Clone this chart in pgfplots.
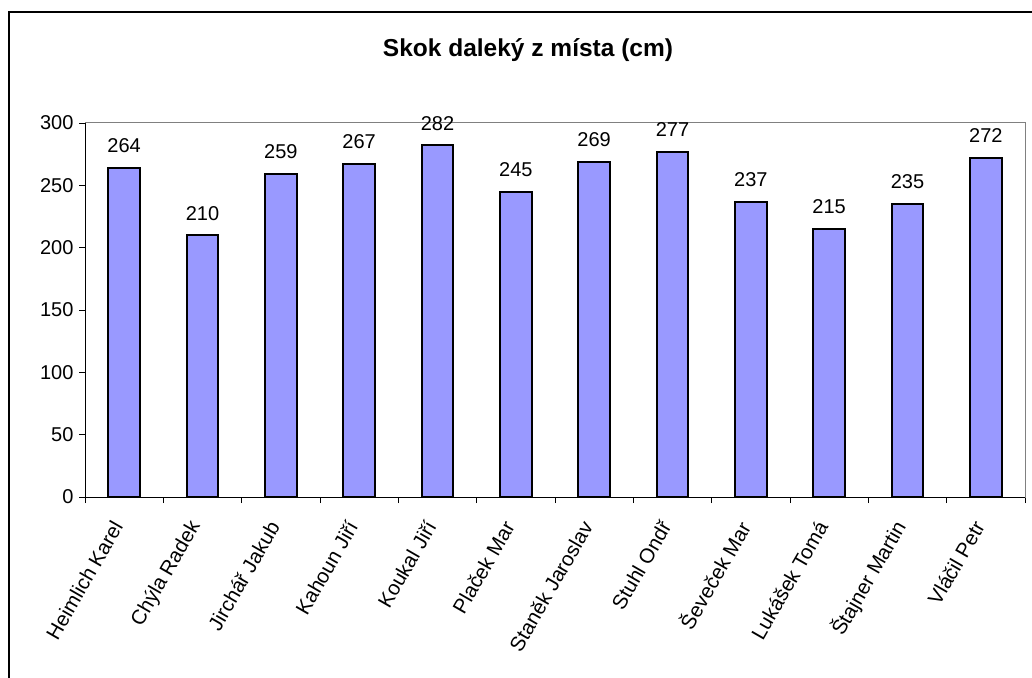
\documentclass[border=0pt]{standalone}
\usepackage{fontspec}
\setmainfont{Liberation Sans}
\usepackage{pgfplots}
\pgfplotsset{compat=1.18}
\definecolor{barfill}{HTML}{9999FF}
\begin{document}
\begin{tikzpicture}[x=1pt,y=1pt]
\useasboundingbox (0,0) rectangle (1032,677);
\draw[line width=1.3pt] (9,-20) -- (9,665) -- (1050,665);
\node[font=\fontsize{24.5}{28}\selectfont\bfseries, anchor=base] at (528,620) {Skok daleký z místa (cm)};
\begin{axis}[
  at={(85pt,180pt)}, anchor=south west,
  scale only axis, width=940pt, height=374pt,
  xmin=-0.5, xmax=11.5, ymin=0, ymax=300,
  ytick={0,50,...,300},
  xtick={0,...,11},
  xticklabels={Heimlich Karel, Chýla Radek, Jirchář Jakub, Kahoun Jiří, Koukal Jiří, Plaček Mar, Staněk Jaroslav, Stuhl Ondř, Ševeček Mar, Lukášek Tomá, Štajner Martin, Vláčil Petr},
  minor xtick={-0.5,0.5,...,11.5},
  major x tick style={draw=none},
  minor tick length=6pt,
  major tick length=6pt,
  tick align=outside,
  xtick pos=bottom, ytick pos=left,
  tick style={black, line width=0.8pt},
  axis line style={draw=gray, line width=1pt},
  /pgf/number format/assume math mode=true,
  ticklabel style={font=\fontsize{20}{24}\selectfont},
  yticklabel style={xshift=-2pt},
  xticklabel style={font=\fontsize{20.5}{24}\selectfont, xshift=-5pt, yshift=-17pt, rotate=60, anchor=east},
  ybar, bar width=31.6pt, bar shift=0pt,
  nodes near coords,
  every node near coord/.append style={font=\fontsize{20}{24}\selectfont, anchor=south, inner sep=0pt, yshift=14pt},
  clip=false,
]
\addplot[fill=barfill, draw=black, line width=2pt] coordinates {
(0,264) (1,210) (2,259) (3,267) (4,282) (5,245) (6,269) (7,277) (8,237) (9,215) (10,235) (11,272)};
\draw[black, line width=1pt] (rel axis cs:0,1) -- (rel axis cs:0,0) -- (rel axis cs:1,0);
\end{axis}
\end{tikzpicture}
\end{document}
